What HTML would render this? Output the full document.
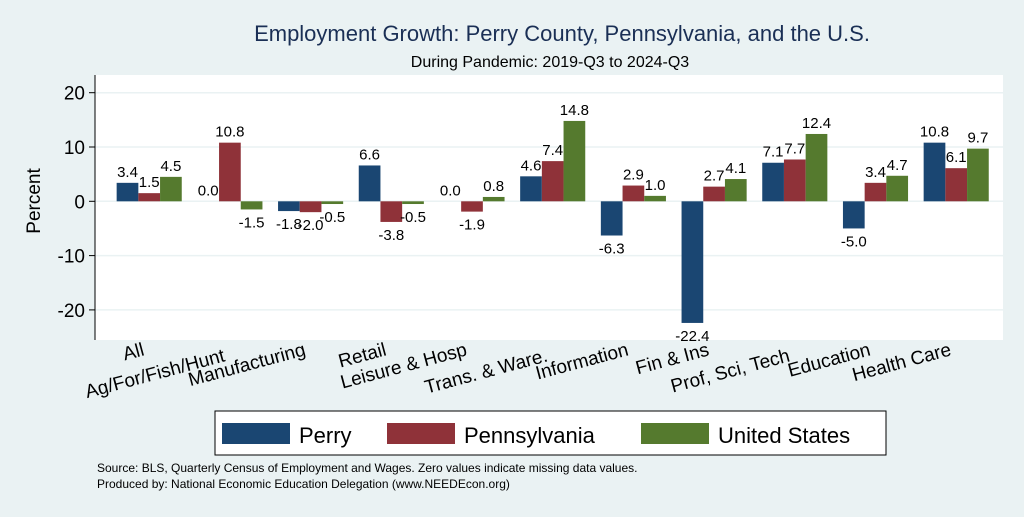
<!DOCTYPE html>
<html><head><meta charset="utf-8"><style>
body{margin:0;width:1024px;height:512px;background:#eaf2f3;font-family:"Liberation Sans",sans-serif;overflow:hidden}
</style></head><body>
<svg width="1024" height="512">
<rect x="0" y="0" width="1024" height="512" fill="#eaf2f3"/>
<text x="562" y="41" font-size="22" fill="#1a2f55" text-anchor="middle">Employment Growth: Perry County, Pennsylvania, and the U.S.</text>
<text x="550" y="67" font-size="16" fill="#000" text-anchor="middle">During Pandemic: 2019-Q3 to 2024-Q3</text>
<rect x="95" y="75" width="908" height="265" fill="#fff"/>
<g id="grid"></g>
<g id="bars"></g>
<line x1="95" y1="75" x2="95" y2="340" stroke="#000"/>
<text transform="translate(40,201) rotate(-90)" font-size="19" text-anchor="middle">Percent</text>
<g id="legend">
<rect x="215" y="411" width="671" height="44" fill="#fff" stroke="#000"/>
<rect x="222" y="423" width="68" height="21" fill="#1a4672"/>
<text x="299" y="443" font-size="22">Perry</text>
<rect x="387" y="423" width="68" height="21" fill="#8f3239"/>
<text x="464" y="443" font-size="22">Pennsylvania</text>
<rect x="641" y="423" width="68" height="21" fill="#557a2e"/>
<text x="718" y="443" font-size="22">United States</text>
</g>
<text x="97" y="472" font-size="12">Source: BLS, Quarterly Census of Employment and Wages. Zero values indicate missing data values.</text>
<text x="97" y="488" font-size="12">Produced by: National Economic Education Delegation (www.NEEDEcon.org)</text>
</svg>
<script>
const categories=["All","Ag/For/Fish/Hunt","Manufacturing","Retail","Leisure & Hosp","Trans. & Ware.","Information","Fin & Ins","Prof, Sci, Tech","Education","Health Care"];
const perry=[3.4,0.0,-1.8,6.6,0.0,4.6,-6.3,-22.4,7.1,-5.0,10.8];
const penn=[1.5,10.8,-2.0,-3.8,-1.9,7.4,2.9,2.7,7.7,3.4,6.1];
const us=[4.5,-1.5,-0.5,-0.5,0.8,14.8,1.0,4.1,12.4,4.7,9.7];
const yTicks=[-20,-10,0,10,20];
const NS="http://www.w3.org/2000/svg";
const y=v=>201.3-v*5.43;
const gx=i=>149.2+i*80.7;
const bw=21.7;
const lowerRow=new Set([1,5,8]);
const grid=document.getElementById('grid'),bars=document.getElementById('bars');
function mk(t,a,p){const e=document.createElementNS(NS,t);for(const k in a)e.setAttribute(k,a[k]);p.appendChild(e);return e;}
yTicks.forEach(t=>{
 const l=mk('line',{x1:95,x2:1003,y1:y(t),y2:y(t),stroke:'#eaf2f3','stroke-width':1.5},grid);
 
 
 const tk=mk('line',{x1:89,x2:95,y1:y(t),y2:y(t),stroke:'#000'},grid);
 
 
 const tx=mk('text',{x:85,y:y(t)+7,'font-size':19,'text-anchor':'end'},grid);
 tx.textContent=t;
 
 
});
const series=[[perry,'#1a4672',-1,'perry'],[penn,'#8f3239',0,'pennsylvania'],[us,'#557a2e',1,'us']];
categories.forEach((c,i)=>{
 series.forEach(([d,col,off,nm])=>{
  const v=d[i],x0=gx(i)+off*bw-bw/2;
  const r=mk('rect',{x:x0,y:Math.min(y(v),y(0)),width:bw,height:Math.abs(y(v)-y(0)),fill:col},bars);
  
  
  const t=mk('text',{x:x0+bw/2,y:v>=0?y(v)-6:y(v)+18,'font-size':15,'text-anchor':'middle'},bars);
  t.textContent=v.toFixed(1);
  
  
 });
 const ly=lowerRow.has(i)?361:355;
 const t=mk('text',{transform:`translate(${gx(i)-4},${ly}) rotate(-15)`,'font-size':19,'text-anchor':'end'},bars);
 t.textContent=c;
 
 
});
</script>
</body></html>
